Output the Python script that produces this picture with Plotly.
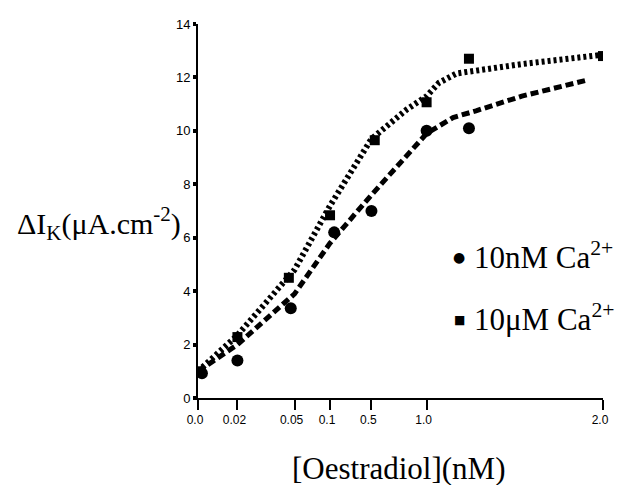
import numpy as np
import plotly.graph_objects as go

# x axis is a hand-drawn, non-uniform concentration scale
tick_conc = [0.0, 0.02, 0.05, 0.1, 0.5, 1.0, 2.0]
tick_text = ["0.0", "0.02", "0.05", "0.1", "0.5", "1.0", "2.0"]
scale_units = [0, 40, 98, 134, 176, 232, 411]

def to_axis(c):
    return np.interp(c, tick_conc, scale_units)

# 10 nM Ca2+ (circles)
nm_conc = [0.002, 0.02, 0.048, 0.14, 0.5, 1.0, 1.24]
nm_val = [0.93, 1.4, 3.36, 6.2, 7.0, 10.0, 10.1]
# 10 uM Ca2+ (squares)
um_conc = [0.0, 0.02, 0.047, 0.1, 0.53, 1.0, 1.24, 2.0]
um_val = [1.0, 2.28, 4.5, 6.84, 9.65, 11.07, 12.7, 12.8]

# fitted curves
nm_fit_conc = [0.0, 0.02, 0.05, 0.1, 0.5, 1.0, 1.15, 1.28, 1.54, 1.91]
nm_fit_val = [1.0, 2.0, 3.9, 5.8, 7.6, 9.9, 10.5, 10.75, 11.3, 11.9]
um_fit_conc = [0.0, 0.02, 0.05, 0.1, 0.5, 0.82, 1.0, 1.07, 1.17, 1.54, 2.0]
um_fit_val = [1.0, 2.35, 4.8, 7.2, 9.7, 10.8, 11.3, 11.8, 12.15, 12.5, 12.85]

y_ticks = [0, 2, 4, 6, 8, 10, 12, 14]

fig = go.Figure()
fig.add_trace(go.Scatter(x=to_axis(um_fit_conc), y=um_fit_val, mode="lines",
                         line=dict(color="black", width=6, dash="3px,3px"), showlegend=False))
fig.add_trace(go.Scatter(x=to_axis(nm_fit_conc), y=nm_fit_val, mode="lines",
                         line=dict(color="black", width=5, dash="8px,4px"), showlegend=False))
fig.add_trace(go.Scatter(x=to_axis(nm_conc), y=nm_val, mode="markers",
                         marker=dict(symbol="circle", size=12, color="black"), showlegend=False))
fig.add_trace(go.Scatter(x=to_axis(um_conc), y=um_val, mode="markers",
                         marker=dict(symbol="square", size=10, color="black"), showlegend=False))

serif = "Liberation Serif"

def px(xp):
    return (xp - 198) / 411

def py(yp):
    return (398 - yp) / 374

def note(text, x, y, size, family=serif, xanchor="center"):
    return dict(text=text, xref="paper", yref="paper", x=px(x), y=py(y),
                xanchor=xanchor, yanchor="middle", showarrow=False,
                font=dict(family=family, size=size, color="black"))

# page body keeps an 8px margin, so the figure is sized to fit inside it
fig.update_layout(
    width=610, height=477,
    margin=dict(l=190, r=9, t=16, b=87),
    paper_bgcolor="white", plot_bgcolor="white",
    xaxis=dict(range=[0, 411], tickvals=to_axis(tick_conc), ticktext=tick_text,
               showgrid=False, zeroline=False, showline=True, linecolor="black", linewidth=1.5,
               ticks="outside", ticklen=10, tickwidth=1.5, tickcolor="black",
               ticklabelshift=-3,
               tickfont=dict(family="Liberation Sans", size=12, color="black")),
    yaxis=dict(range=[0, 14], tickvals=y_ticks, showgrid=False, zeroline=False,
               showline=True, linecolor="black", linewidth=2,
               ticks="outside", ticklen=3, tickwidth=4, tickcolor="black",
               tickfont=dict(family="Liberation Sans", size=13, color="black")),
    annotations=[
        note("ΔI<sub>K</sub>(μA.cm<sup>-2</sup>)", 12, 224, 30, xanchor="left"),
        note("[Oestradiol](nM)", 402, 468, 31),
        note("●", 463, 257, 14, family="DejaVu Sans"),
        note("10nM Ca<sup>2+</sup>", 476, 255, 31, xanchor="left"),
        note("■", 463, 320, 12, family="DejaVu Sans"),
        note("10μM Ca<sup>2+</sup>", 476, 317, 31, xanchor="left"),
    ],
)
fig.write_html("out.html", config={"displayModeBar": False})
